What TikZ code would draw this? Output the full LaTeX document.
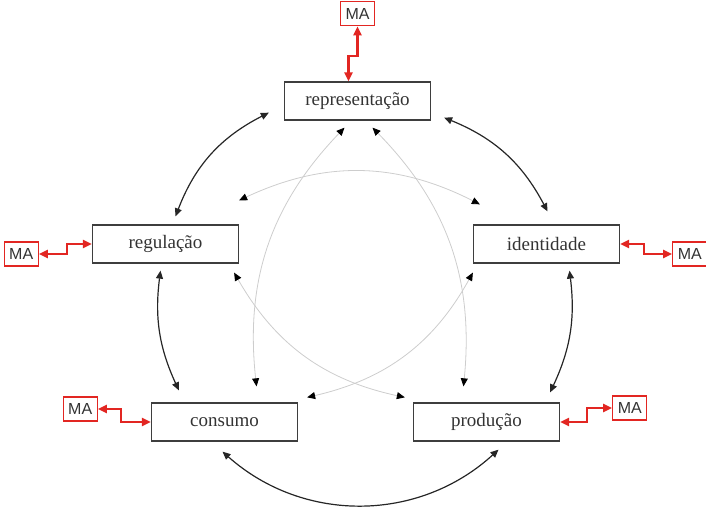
\documentclass[tikz,border=0pt]{standalone}
\usepackage{fontspec}
\setmainfont{Liberation Serif}
\newfontfamily\mafont{Liberation Sans}
\usepackage{xcolor}
\usepackage{tikz}
\usetikzlibrary{arrows.meta, positioning}
\definecolor{maRed}{RGB}{226,38,34}
\definecolor{boxGray}{RGB}{62,62,62}
\definecolor{linkGray}{RGB}{205,205,205}
\tikzstyle{concept} = [rectangle, minimum width=146pt, minimum height=38pt, inner sep=0pt, draw=boxGray, line width=1.3pt, text=black!80, font=\fontsize{19}{21}\selectfont]
\tikzstyle{ma} = [rectangle, minimum width=34pt, minimum height=24pt, inner sep=0pt, draw=maRed, line width=1.3pt, text=black!80, font=\mafont\fontsize{16}{17}\selectfont]
\tikzstyle{cyclelink} = [line width=1.2pt, draw=black!85, <->, >={Triangle[length=8pt,width=7pt]}]
\tikzstyle{crosslink} = [line width=0.8pt, draw=linkGray, <->, >={Triangle[length=8pt,width=7pt,color=black]}]
\tikzstyle{malink} = [line width=2.2pt, draw=maRed, <->, >={Triangle[length=9pt,width=8pt]}, line join=miter]

\begin{document}
\begin{tikzpicture}[x=1pt, y=-1pt]
\useasboundingbox (0,0) rectangle (706,510);
%----------------------------------------------------------------------------
% Placement of concept nodes
\node (repr)  [concept] at (357.5,101) {representação};
\node (regul) [concept] at (165.5,244) {regulação};
\node (ident) [concept] at (546.5,244) {identidade};
\node (cons)  [concept] at (224.5,422) {consumo};
\node (prod)  [concept] at (486.5,422) {produção};

% MA nodes
\node (maT)  [ma, above=55pt of repr] {MA};
\node (maL)  [ma, left=53pt of regul, yshift=-10pt] {MA};
\node (maR)  [ma, right=52pt of ident, yshift=-10pt] {MA};
\node (maBL) [ma, left=53pt of cons, yshift=13pt] {MA};
\node (maBR) [ma, right=52pt of prod, yshift=14pt] {MA};

%----------------------------------------------------------------------------
% Outer cycle
\draw [cyclelink] ([shift={(-15,-8)}]repr.south west) to[bend right=21] ([shift={(10,-8)}]regul.north);
\draw [cyclelink] ([shift={(13,-3)}]repr.south east) to[bend left=20] ([shift={(1,-13)}]ident.north);
\draw [cyclelink] ([shift={(-5,7)}]regul.south) to[bend right=16] ([shift={(28,-12)}]cons.north west);
\draw [cyclelink] ([shift={(23,7)}]ident.south) to[bend left=16] ([shift={(-10,-10)}]prod.north east);
\draw [cyclelink] ([shift={(-2,10)}]cons.south) to[bend right=42] ([shift={(12,8)}]prod.south);

%----------------------------------------------------------------------------
% Inner links
\draw [crosslink] ([shift={(-13,7)}]repr.south) to[bend right=25] ([shift={(32,-16)}]cons.north);
\draw [crosslink] ([shift={(15,7)}]repr.south) to[bend left=25] ([shift={(-23,-16)}]prod.north);
\draw [crosslink] ([shift={(0,-24)}]regul.north east) to[bend left=26] ([shift={(7,-20)}]ident.north west);
\draw [crosslink] ([shift={(-5,9)}]regul.south east) to[bend right=24] ([shift={(-8,-5)}]prod.north west);
\draw [crosslink] ([shift={(0,9)}]ident.south west) to[bend left=24] ([shift={(9,-5)}]cons.north east);

%----------------------------------------------------------------------------
% MA links
\draw [malink] (maT.south) -- ++(0,30) -| ([xshift=-9pt]repr.north);
\draw [malink] (maL.east) -- ++(28,0) |- (regul.west);
\draw [malink] (ident.east) -- ++(24,0) |- (maR.west);
\draw [malink] (maBL.east) -- ++(23,0) |- (cons.west);
\draw [malink] (prod.east) -- ++(27,0) |- (maBR.west);

\end{tikzpicture}
\end{document}
